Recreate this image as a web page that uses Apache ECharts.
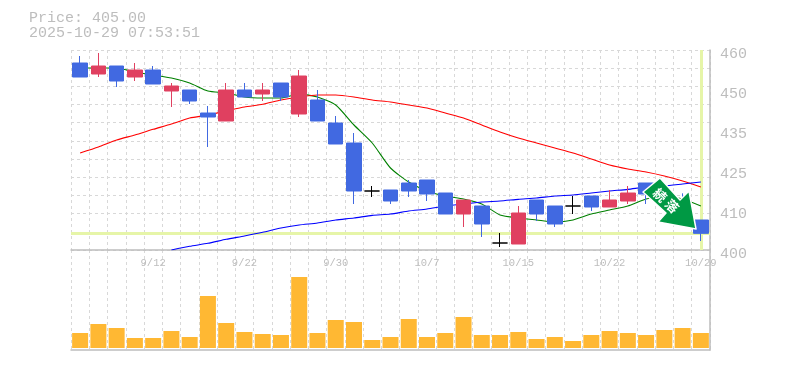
<!DOCTYPE html>
<html><head><meta charset="utf-8">
<style>html,body{margin:0;padding:0;background:#fff}#c{width:785px;height:370px}</style>
<script src="https://cdn.jsdelivr.net/npm/echarts@6/dist/echarts.min.js"></script>
</head><body><div id="c"></div>
<script>
const categories = ['9/8','9/9','9/10','9/11','9/12','9/16','9/17','9/18','9/19','9/22','9/24','9/25','9/26','9/29','9/30','10/1','10/2','10/3','10/6','10/7','10/8','10/9','10/10','10/14','10/15','10/16','10/17','10/20','10/21','10/22','10/23','10/24','10/27','10/28','10/29'];
const opens  = [456.1,452.8,455.2,451.9,454,447.7,448,441.1,438.7,448,446.8,450.1,440.8,445,438.1,432.1,417.7,418,420.1,421,417.1,410.8,413.2,402.1,401.8,415,413.2,413.2,416.2,412.9,414.7,420.1,417,415,409];
const closes = [451.9,455.2,450.7,454,449.8,449.2,444.7,439.9,448,445.9,448,445.9,452.2,438.7,431.8,417.7,417.7,414.7,417.7,416.8,410.8,415,407.8,402.1,411.1,410.8,407.8,413.2,412.9,415,417.1,416.8,415.5,411,405];
const lows   = [451.9,451.9,448.9,450.7,449.8,442.9,443.8,430.9,438.7,445.9,444.7,444.7,439.9,438.7,431.8,413.8,415.9,413.8,415.9,414.7,410.8,406.9,403.9,400.9,401.8,408.7,406.9,410.8,411.7,412.9,413.8,413.8,415,410,402.7];
const highs  = [458.2,459.1,455.2,456.1,455.2,450.1,448,443.2,450.1,450.1,450.1,450.1,454,448,440.2,435.1,419.2,418,421,421,417.1,415,413.2,405.1,413.2,415,413.2,416.2,416.2,418,419.2,420.1,418,417,409];
const volumes = [15,24,20,10,10,17,11,52,25,16,14,13,71,15,28,26,8,11,29,11,15,31,13,13,16,9,11,7,13,17,15,13,18,20,15];
const maShort = [454.6,454.6,454.6,453.4,452.5,451.6,450.1,447.7,447.1,445.9,445.6,445.6,446.8,445.9,443.5,437.5,432.1,424.6,420.4,417.7,416.2,415.3,413.8,410.5,409.6,409,408.4,409,410.8,412,413.2,415.3,416.2,415.3,413.2];
const maMid = [429.1,430.9,433,434.5,436.2,437.8,439.6,440.5,441.7,442.9,443.7,445,445.9,446.5,446.5,445.9,445,444.4,443.5,442.6,441.1,439.6,437.5,435.4,433.6,432.1,430.6,429.1,427.3,425.5,424.3,423.4,422.2,420.7,418.9];
const maLong = [null,null,null,null,null,400,401.1,402,403.2,404.2,405.3,406.6,407.5,408.1,409,409.6,410.4,410.8,411.7,412.3,413.2,413.8,414.4,414.7,415.2,415.6,416.2,416.5,417.1,417.7,418.2,418.9,419.2,419.8,420.4];
const tickValues = [400,412,424,436,448,460];
const tickLabels = ['400','410','425','435','450','460'];
const labelIndexes = [4,9,14,19,24,29,34];
const currentPrice = 405.00;
const headline = 'Price: 405.00\n2025-10-29 07:53:51';
const badgeChars = ['続','落'];

const GREY = '#bdbdbd', GRID = '#d8d8d8', MONO = '"Liberation Mono", monospace';
const RED = '#e04060', BLUE = '#4169e1', PALE = '#e6f5a8';
const candleData = categories.map((c, i) => {
  const value = [opens[i], closes[i], lows[i], highs[i]];
  if (opens[i] === closes[i]) return {value, itemStyle:{color:'#000',color0:'#000',borderColor:'#000',borderColor0:'#000'}};
  const col = closes[i] > opens[i] ? RED : BLUE;
  return {value, itemStyle:{color:col,color0:col,borderColor:col,borderColor0:col}};
});
const dashed = {show:true, lineStyle:{color:GRID, type:[3,3], width:1}};
const line = (name, data, color) => ({name, type:'line', data, xAxisIndex:0, yAxisIndex:0, smooth:0.2, showSymbol:false, silent:true, z:2, lineStyle:{color, width:1.1}, animation:false});

const chart = echarts.init(document.getElementById('c'), null, {renderer:'canvas'});
chart.setOption({
  animation:false,
  backgroundColor:'#fff',
  title:{text:headline, left:24, top:6, textStyle:{fontFamily:MONO, fontSize:15, fontWeight:'normal', color:GREY, lineHeight:15}},
  grid:[{left:71, top:50, width:639, height:200},{left:71, top:250, width:639, height:100}],
  xAxis:[
    {type:'category', gridIndex:0, data:categories, boundaryGap:true,
     axisLine:{show:true, onZero:false, lineStyle:{color:GREY, width:1.5}}, axisTick:{show:false},
     axisLabel:{interval:(i)=>labelIndexes.includes(i), hideOverlap:false, margin:8, fontFamily:MONO, fontSize:10.5, color:GREY},
     splitLine:{...dashed, interval:0}},
    {type:'category', gridIndex:1, data:categories, boundaryGap:true,
     axisLine:{show:true, onZero:false, lineStyle:{color:GREY, width:1.5}}, axisTick:{show:false}, axisLabel:{show:false},
     splitLine:{...dashed, interval:0}}
  ],
  yAxis:[
    {type:'value', gridIndex:0, position:'right', min:400, max:460, scale:true,
     axisLine:{show:true, lineStyle:{color:GREY, width:1.5}}, axisTick:{show:false}, splitLine:{show:false},
     axisLabel:{customValues:tickValues, margin:10, fontFamily:MONO, fontSize:15, color:GREY, verticalAlign:'top', lineHeight:8,
       formatter:(v)=>tickLabels[tickValues.indexOf(v)]}},
    {type:'value', gridIndex:0, position:'left', min:0, max:11, interval:1,
     axisLine:{show:false}, axisTick:{show:false}, axisLabel:{show:false}, splitLine:dashed},
    {type:'value', gridIndex:1, position:'right', min:-2, max:98,
     axisLine:{show:true, lineStyle:{color:GREY, width:1.5}}, axisTick:{show:false}, axisLabel:{show:false}, splitLine:{show:false}}
  ],
  series:[
    {name:'ref', type:'line', data:[], xAxisIndex:0, yAxisIndex:0, z:1, silent:true,
     markLine:{silent:true, z:1, symbol:'none', animation:false, label:{show:false}, precision:2,
       lineStyle:{color:PALE, width:3, type:'solid'},
       data:[{yAxis:currentPrice},{xAxis:categories[categories.length-1]}]}},
    line('MA short', maShort, '#008000'),
    line('MA mid', maMid, '#ff0000'),
    line('MA long', maLong, '#0000ff'),
    {name:'price', type:'candlestick', xAxisIndex:0, yAxisIndex:0, data:candleData, barWidth:15, z:3, silent:true},
    {name:'volume', type:'bar', xAxisIndex:1, yAxisIndex:2, data:volumes, barWidth:16, silent:true, itemStyle:{color:'#ffb833'}}
  ],
  graphic:[
    {type:'polygon', z:50, silent:true,
     shape:{points:[[660,178],[643,192],[666,213],[658,222],[696,229],[689,191],[680,200]]},
     style:{fill:'#009944', stroke:'#fff', lineWidth:1.5, lineJoin:'round'}},
    {type:'text', z:51, silent:true, x:660, y:195, rotation:-Math.PI/4,
     style:{text:badgeChars[0], align:'center', verticalAlign:'middle', fill:'#fff', font:'bold 13px "Noto Sans CJK JP"'}},
    {type:'text', z:51, silent:true, x:672, y:206, rotation:-Math.PI/4,
     style:{text:badgeChars[1], align:'center', verticalAlign:'middle', fill:'#fff', font:'bold 13px "Noto Sans CJK JP"'}}
  ]
});
</script></body></html>
